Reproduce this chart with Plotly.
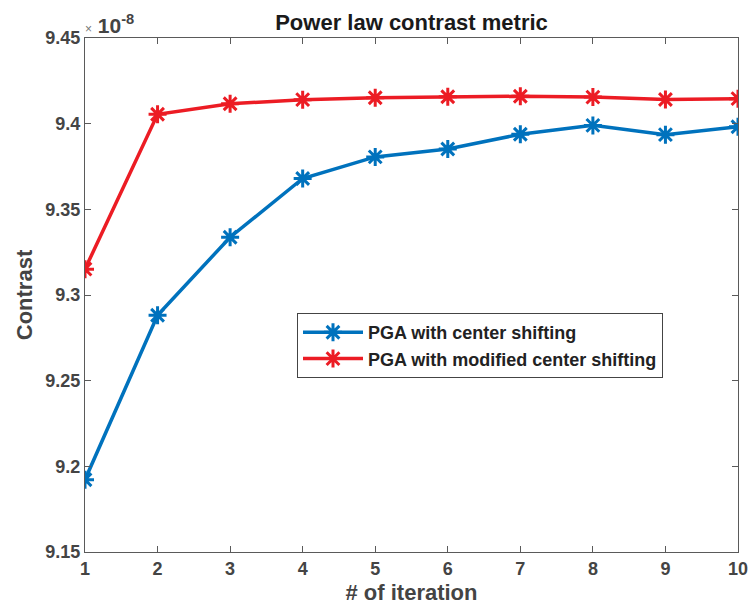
import plotly.graph_objects as go

# Iteration index and contrast values (in units of 1e-8)
iterations = [1, 2, 3, 4, 5, 6, 7, 8, 9, 10]
contrast_center_shift = [9.1922, 9.2882, 9.3337, 9.3680, 9.3806, 9.3852, 9.3938, 9.3990, 9.3936, 9.3982]
contrast_modified_shift = [9.3151, 9.4055, 9.4116, 9.4140, 9.4151, 9.4157, 9.4160, 9.4155, 9.4141, 9.4146]
series_names = ["PGA with center shifting", "PGA with modified center shifting"]
x_tick_text = ["1", "2", "3", "4", "5", "6", "7", "8", "9", "10"]
y_ticks = [9.15, 9.2, 9.25, 9.3, 9.35, 9.4, 9.45]
y_tick_text = ["9.15", "9.2", "9.25", "9.3", "9.35", "9.4", "9.45"]
exponent = -8
x_range = [1, 10]
y_range = [9.15, 9.45]

BLUE = "#0072BD"
RED = "#EC1C24"
TEXT = "#444444"
AXIS = "#5a5a5a"
FONT = "Liberation Sans, Arial, sans-serif"

fig = go.Figure()
for name, values, color in [
    (series_names[0], contrast_center_shift, BLUE),
    (series_names[1], contrast_modified_shift, RED),
]:
    fig.add_trace(go.Scatter(
        x=iterations, y=values, name=f"<b>{name}</b>", mode="lines+markers",
        line=dict(color=color, width=3.5),
        marker=dict(symbol="asterisk-open", size=15, color=color,
                    line=dict(color=color, width=3)),
    ))

# Power-of-ten multiplier written just above the top-left corner of the axes
fig.add_trace(go.Scatter(
    x=[x_range[0]], y=[y_range[1]], mode="text", showlegend=False, hoverinfo="skip",
    text=[f"<span style='font-size:12px;color:#777777'>×</span> <b>10<sup>{exponent}</sup></b>"],
    textposition="top right", cliponaxis=False,
    textfont=dict(family=FONT, size=21, color=TEXT),
))

axis_common = dict(
    showline=True, linecolor=AXIS, linewidth=1, mirror="ticks",
    ticks="inside", ticklen=6, tickcolor=AXIS, tickwidth=1,
    showgrid=False, zeroline=False, automargin=False,
    tickfont=dict(family=FONT, size=18, color=TEXT, weight=700),
)

fig.update_layout(
    width=750, height=609,
    margin=dict(l=85, r=12, t=38, b=57),
    paper_bgcolor="white", plot_bgcolor="white",
    font=dict(family=FONT, color=TEXT),
    title=dict(text="<b>Power law contrast metric</b>", x=(85 + 738) / 2 / 750,
               xanchor="center", y=1 - 22 / 609, yanchor="middle",
               font=dict(family=FONT, size=22, color="#1a1a1a")),
    xaxis=dict(range=x_range, tickvals=iterations, ticktext=x_tick_text, **axis_common,
               title=dict(text="<b># of iteration</b>", standoff=7,
                          font=dict(family=FONT, size=22, color=TEXT))),
    yaxis=dict(range=y_range, tickvals=y_ticks, ticktext=y_tick_text, **axis_common,
               title=dict(text="<b>Contrast</b>", standoff=6,
                          font=dict(family=FONT, size=22, color=TEXT))),
    legend=dict(x=(297 - 85) / 653, y=(552 - 313) / 514, xanchor="left", yanchor="top",
                bgcolor="white", bordercolor="#444444", borderwidth=1,
                itemwidth=60, tracegroupgap=0,
                font=dict(family=FONT, size=18, color="#222222")),
    showlegend=True,
)

fig.write_html("out.html")
